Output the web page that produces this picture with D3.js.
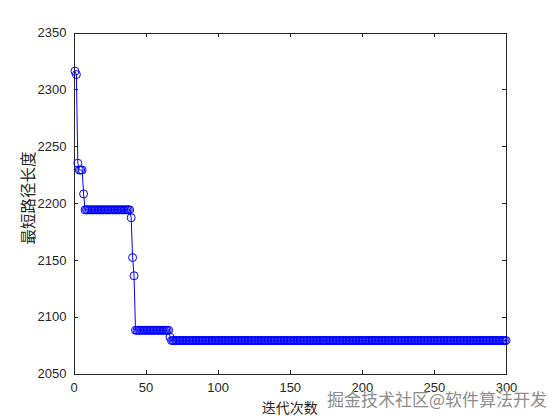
<!DOCTYPE html>
<html>
<head>
<meta charset="utf-8">
<script src="https://cdn.jsdelivr.net/npm/d3@7"></script>
<style>
  body { margin: 0; background: #fff; }
  .axis text { font-family: "Liberation Sans", Arial, sans-serif; font-size: 13px; fill: #262626; }
  .axis path, .axis line { stroke: #262626; shape-rendering: crispEdges; }
</style>
</head>
<body>
<div id="chart"></div>
<script>
// data: [value, how many iterations in a row]
var runs = [
  [2316, 1], [2313, 1], [2235, 1], [2229, 3], [2208, 1],
  [2194, 32],
  [2187, 1], [2152, 1], [2136, 1],
  [2088, 24],
  [2082, 1],
  [2079, 233]
];
var xTicks = [0, 50, 100, 150, 200, 250, 300];
var yTicks = [2050, 2100, 2150, 2200, 2250, 2300, 2350];
var xLabel = "迭代次数",
    yLabel = "最短路径长度",
    watermark = "掘金技术社区@软件算法开发";

var values = [];
runs.forEach(function (r) {
  for (var k = 0; k < r[1]; k++) values.push(r[0]);
});
var data = values.map(function (v, i) { return {iter: i + 1, len: v}; });

//Define Margin
var margin = {left: 73.5, right: 54, top: 32.5, bottom: 46.5},
    width = 560 - margin.left - margin.right,
    height = 420 - margin.top - margin.bottom;

var root = d3.select("#chart").append("svg")
    .attr("width", 560)
    .attr("height", 420);

var svg = root.append("g")
    .attr("transform", "translate(" + margin.left + "," + margin.top + ")");

var x = d3.scaleLinear().domain([0, 300]).range([0, width]),
    y = d3.scaleLinear().domain([2050, 2350]).range([height, 0]);

var fmt = d3.format("d");

// box with inward ticks on all four sides
svg.append("g")
    .attr("class", "axis")
    .attr("transform", "translate(0," + height + ")")
    .call(d3.axisBottom(x).tickValues(xTicks).tickFormat(fmt).tickSizeInner(-4).tickSizeOuter(0).tickPadding(9));

svg.append("g")
    .attr("class", "axis")
    .call(d3.axisLeft(y).tickValues(yTicks).tickFormat(fmt).tickSizeInner(-4).tickSizeOuter(0).tickPadding(7));

svg.append("g")
    .attr("class", "axis")
    .call(d3.axisTop(x).tickValues(xTicks).tickSizeInner(-4).tickSizeOuter(0).tickFormat(""));

svg.append("g")
    .attr("class", "axis")
    .attr("transform", "translate(" + width + ",0)")
    .call(d3.axisRight(y).tickValues(yTicks).tickSizeInner(-4).tickSizeOuter(0).tickFormat(""));

var line = d3.line()
    .x(function (d) { return x(d.iter); })
    .y(function (d) { return y(d.len); });

svg.append("path")
    .datum(data)
    .attr("fill", "none")
    .attr("stroke", "#0000ff")
    .attr("stroke-width", 1)
    .attr("d", line);

svg.append("g")
    .selectAll("circle")
    .data(data)
    .enter().append("circle")
    .attr("cx", function (d) { return x(d.iter); })
    .attr("cy", function (d) { return y(d.len); })
    .attr("r", 4)
    .attr("fill", "none")
    .attr("stroke", "#0000ff")
    .attr("stroke-width", 1);

// axis labels
root.append("text")
    .attr("x", margin.left + width / 2)
    .attr("y", 413)
    .attr("text-anchor", "middle")
    .style("font-family", "'Noto Sans CJK SC', sans-serif")
    .style("font-size", "14px")
    .style("fill", "#262626")
    .text(xLabel);

root.append("text")
    .attr("transform", "translate(34,198) rotate(-90)")
    .attr("text-anchor", "middle")
    .style("font-family", "'Noto Sans CJK SC', sans-serif")
    .style("font-size", "15.5px")
    .style("fill", "#262626")
    .text(yLabel);

// watermark (sits over the tick labels, as in the source image)
root.append("text")
    .attr("x", 547)
    .attr("y", 406)
    .attr("text-anchor", "end")
    .style("font-family", "'Noto Sans CJK SC', sans-serif")
    .style("font-size", "17px")
    .style("fill", "#8c8c8c")
    .style("stroke", "#ffffff")
    .style("stroke-width", 0.6)
    .style("paint-order", "stroke")
    .text(watermark);
</script>
</body>
</html>
